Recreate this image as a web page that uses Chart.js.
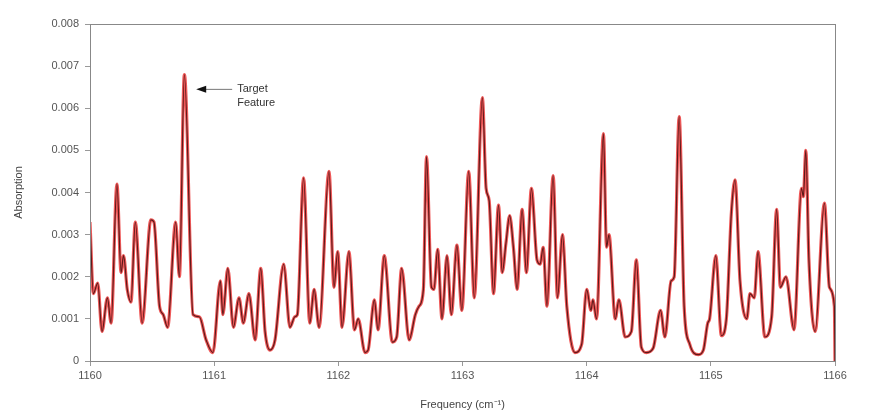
<!DOCTYPE html>
<html>
<head>
<meta charset="utf-8">
<script src="https://cdn.jsdelivr.net/npm/chart.js@4"></script>
<style>
  html, body { margin: 0; padding: 0; background: #fff; }
  #wrap { width: 880px; height: 416px; }
</style>
</head>
<body>
<div id="wrap"><canvas id="spec"></canvas></div>
<script>
  // frequency (cm-1) and absorption
  const freq = [
    1160.00, 1160.027, 1160.062, 1160.097, 1160.14, 1160.17, 1160.217, 1160.25, 1160.27, 1160.30,
    1160.33, 1160.365, 1160.42, 1160.49, 1160.515, 1160.56, 1160.59, 1160.625, 1160.69, 1160.72,
    1160.76, 1160.83, 1160.88, 1160.935, 1160.99, 1161.05, 1161.07, 1161.11, 1161.155, 1161.20,
    1161.235, 1161.28, 1161.33, 1161.375, 1161.41, 1161.45, 1161.49, 1161.56, 1161.61, 1161.65,
    1161.67, 1161.72, 1161.77, 1161.805, 1161.845, 1161.925, 1161.965, 1161.995, 1162.03, 1162.085,
    1162.13, 1162.16, 1162.215, 1162.24, 1162.29, 1162.32, 1162.37, 1162.435, 1162.47, 1162.51,
    1162.57, 1162.62, 1162.65, 1162.685, 1162.71, 1162.75, 1162.77, 1162.80, 1162.835, 1162.875,
    1162.91, 1162.955, 1162.995, 1163.05, 1163.095, 1163.16, 1163.19, 1163.215, 1163.25, 1163.29,
    1163.32, 1163.35, 1163.38, 1163.41, 1163.44, 1163.48, 1163.515, 1163.555, 1163.60, 1163.625,
    1163.65, 1163.68, 1163.73, 1163.765, 1163.805, 1163.84, 1163.905, 1163.96, 1164.00, 1164.035,
    1164.05, 1164.08, 1164.135, 1164.16, 1164.18, 1164.23, 1164.26, 1164.31, 1164.36, 1164.40,
    1164.44, 1164.48, 1164.535, 1164.595, 1164.63, 1164.68, 1164.705, 1164.745, 1164.785, 1164.83,
    1164.90, 1164.94, 1164.975, 1164.99, 1165.04, 1165.085, 1165.125, 1165.165, 1165.195, 1165.235,
    1165.29, 1165.315, 1165.35, 1165.38, 1165.435, 1165.49, 1165.53, 1165.56, 1165.605, 1165.67,
    1165.73, 1165.745, 1165.765, 1165.79, 1165.84, 1165.915, 1165.955, 1165.995, 1166.00
  ];
  const absorption = [
    0.0033, 0.0016, 0.00185, 0.0007, 0.0015, 0.0009, 0.0042, 0.0021, 0.0025, 0.0017,
    0.0014, 0.0033, 0.0009, 0.00335, 0.0033, 0.0013, 0.0011, 0.0008, 0.0033, 0.0020,
    0.0068, 0.0011, 0.00105, 0.0005, 0.0002, 0.0019, 0.0011, 0.0022, 0.0008, 0.0015,
    0.0009, 0.0016, 0.0005, 0.0022, 0.0007, 0.00026, 0.0005, 0.0023, 0.0008, 0.00105,
    0.0011, 0.00435, 0.0009, 0.0017, 0.0008, 0.0045, 0.00175, 0.0026, 0.0008, 0.0026,
    0.00074, 0.0010, 0.0002, 0.00026, 0.00145, 0.00074, 0.0025, 0.00045, 0.00057, 0.0022,
    0.0005, 0.0011, 0.0013, 0.0017, 0.00485, 0.00175, 0.0017, 0.00265, 0.0010, 0.0025,
    0.0011, 0.00275, 0.0012, 0.0045, 0.0015, 0.00625, 0.0041, 0.0038, 0.0016, 0.0037,
    0.0021, 0.0028, 0.00345, 0.0027, 0.0017, 0.0036, 0.0021, 0.0041, 0.0024, 0.0023,
    0.0027, 0.0013, 0.0044, 0.0015, 0.0030, 0.0013, 0.0002, 0.0004, 0.0017, 0.0012,
    0.00145, 0.0010, 0.0054, 0.0027, 0.0030, 0.0010, 0.00145, 0.00057, 0.0007, 0.0024,
    0.00033, 0.0002, 0.0003, 0.0012, 0.00057, 0.0019, 0.0020, 0.0058, 0.0013, 0.0004,
    0.00015, 0.00026, 0.0009, 0.0010, 0.0025, 0.0006, 0.0010, 0.0035, 0.0043, 0.0019,
    0.0010, 0.0016, 0.0015, 0.0026, 0.00057, 0.00105, 0.0036, 0.00175, 0.0020, 0.00074,
    0.0041, 0.0039, 0.0050, 0.0024, 0.0007, 0.00375, 0.00175, 0.0013, 0.0000
  ];
  const xTicks = [1160, 1161, 1162, 1163, 1164, 1165, 1166];
  const yTicks = [0, 0.001, 0.002, 0.003, 0.004, 0.005, 0.006, 0.007, 0.008];
  const points = freq.map((f, i) => ({ x: f, y: absorption[i] }));

  const font = { size: 11, family: '"Liberation Sans", Arial, sans-serif' };

  const frame = {
    id: 'frame',
    afterDraw(chart) {
      const { ctx, chartArea: a, scales } = chart;
      ctx.save();
      ctx.strokeStyle = '#888';
      ctx.lineWidth = 1;
      ctx.strokeRect(a.left + 0.5, a.top + 0.5, a.right - a.left, a.bottom - a.top);

      // "Target Feature" annotation
      const tipX = scales.x.getPixelForValue(1160.855);
      const tipY = scales.y.getPixelForValue(0.00646);
      ctx.strokeStyle = '#777';
      ctx.beginPath();
      ctx.moveTo(tipX + 8, tipY + 0.5);
      ctx.lineTo(tipX + 36, tipY + 0.5);
      ctx.stroke();
      ctx.fillStyle = '#111';
      ctx.beginPath();
      ctx.moveTo(tipX, tipY + 0.5);
      ctx.lineTo(tipX + 10, tipY - 3);
      ctx.lineTo(tipX + 10, tipY + 4);
      ctx.closePath();
      ctx.fill();
      ctx.fillStyle = '#333';
      ctx.font = '11px "Liberation Sans", Arial, sans-serif';
      ctx.textBaseline = 'middle';
      ctx.fillText('Target', tipX + 41, tipY);
      ctx.fillText('Feature', tipX + 41, tipY + 14);
      ctx.restore();
    }
  };

  new Chart(document.getElementById('spec'), {
    type: 'line',
    data: {
      datasets: [
        {
          data: points,
          borderColor: '#5e1a1a',
          borderWidth: 1.2,
          pointRadius: 0,
          cubicInterpolationMode: 'monotone',
          order: 1,
        },
        {
          data: points,
          borderColor: 'rgba(236,70,70,.9)',
          borderWidth: 3.2,
          pointRadius: 0,
          cubicInterpolationMode: 'monotone',
          order: 2,
        }
      ]
    },
    options: {
      responsive: true,
      maintainAspectRatio: false,
      animation: false,
      layout: { padding: { top: 24, right: 45, left: 8, bottom: 0 } },
      plugins: { legend: { display: false }, tooltip: { enabled: false } },
      scales: {
        x: {
          type: 'linear',
          min: 1160, max: 1166,
          afterBuildTicks: s => { s.ticks = xTicks.map(v => ({ value: v })); },
          grid: { drawOnChartArea: false, tickLength: 5, color: '#999' },
          border: { color: '#888' },
          ticks: { color: '#555', font, padding: 3, callback: v => String(v) },
          title: { display: true, text: 'Frequency (cm⁻¹)', color: '#444', font, padding: { top: 14 } },
          afterFit: s => { s.height = 55; }
        },
        y: {
          min: 0, max: 0.008,
          afterBuildTicks: s => { s.ticks = yTicks.map(v => ({ value: v })); },
          grid: { drawOnChartArea: false, tickLength: 5, color: '#999' },
          border: { color: '#888' },
          ticks: { color: '#555', font, padding: 6, callback: v => v === 0 ? '0' : v.toFixed(3) },
          title: { display: true, text: 'Absorption', color: '#444', font, padding: { bottom: 0 } },
          afterFit: s => { s.width = 82; }
        }
      }
    },
    plugins: [frame]
  });
</script>
</body>
</html>
